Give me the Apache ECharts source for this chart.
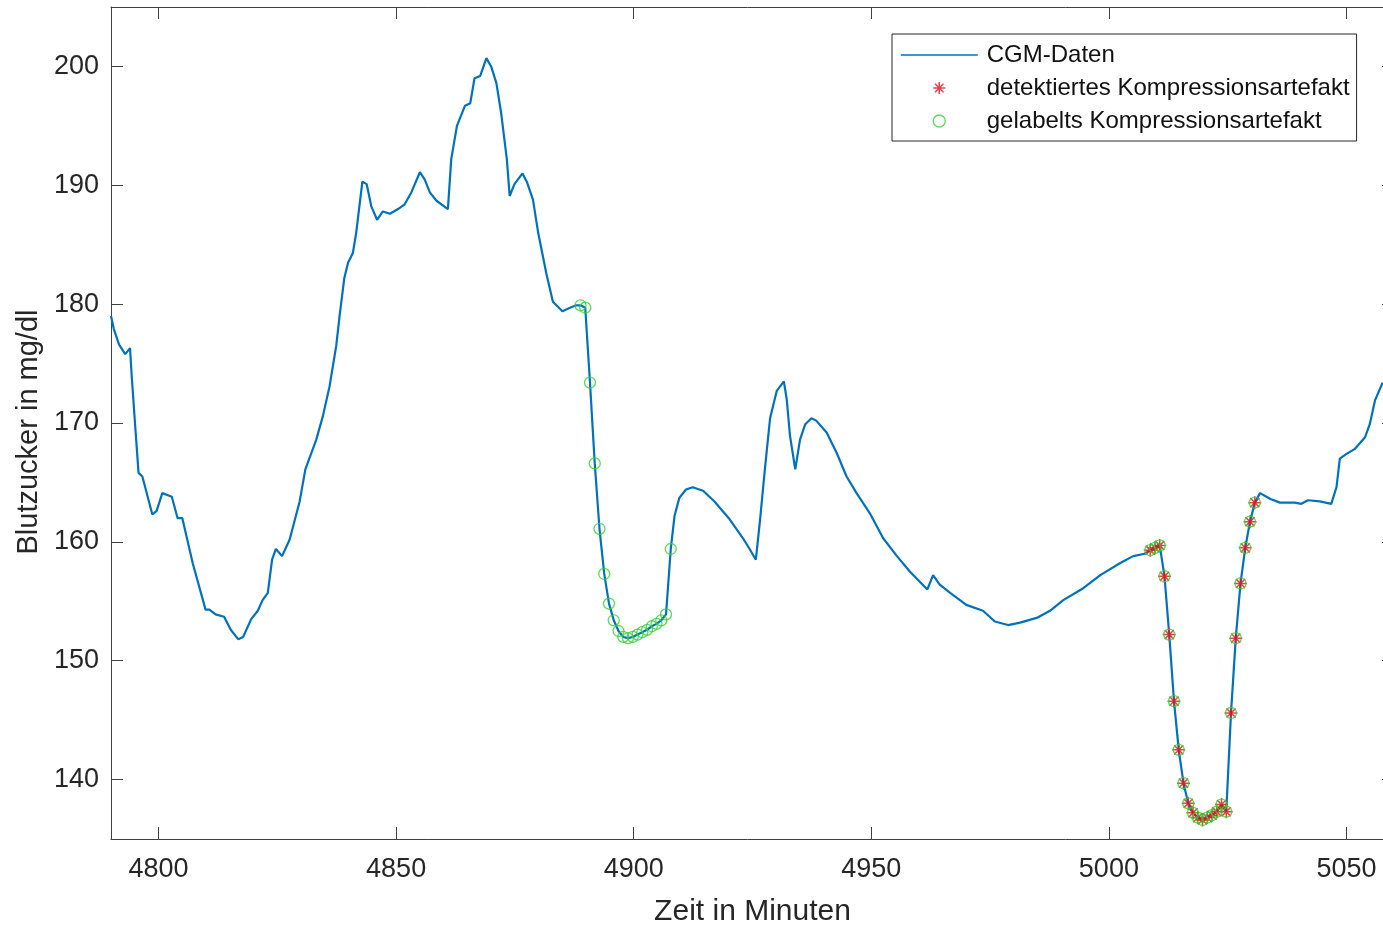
<!DOCTYPE html>
<html>
<head>
<meta charset="utf-8">
<title>CGM Kompressionsartefakte</title>
<script src="https://cdn.jsdelivr.net/npm/echarts@6/dist/echarts.min.js"></script>
<style>
  html, body { margin: 0; padding: 0; background: #fff; }
  #chart { width: 1383px; height: 925px; }
</style>
</head>
<body>
<div id="chart"></div>
<script>
// CGM-Verlauf (Zeit in Minuten, Blutzucker in mg/dl)
const cgmTime = [
  4790.0, 4790.6, 4791.7, 4793.0, 4794.0, 4794.4, 4795.1, 4795.8, 4796.6, 4798.7,
  4799.6, 4800.8, 4802.8, 4804.0, 4805.0, 4807.2, 4809.9, 4810.7, 4812.0, 4813.8,
  4815.2, 4816.8, 4817.8, 4819.5, 4820.9, 4821.9, 4823.0, 4823.9, 4824.7, 4826.0,
  4827.6, 4829.7, 4830.9, 4833.2, 4834.6, 4836.0, 4837.4, 4838.1, 4839.1, 4839.9,
  4840.9, 4841.6, 4842.9, 4843.8, 4844.8, 4846.0, 4847.2, 4848.7, 4850.4, 4851.8,
  4853.2, 4855.0, 4856.0, 4857.1, 4858.5, 4860.9, 4861.6, 4862.8, 4864.5, 4865.6,
  4866.5, 4867.7, 4869.0, 4870.0, 4871.1, 4872.1, 4873.3, 4873.9, 4874.9, 4876.6,
  4877.5, 4878.8, 4879.9, 4881.6, 4883.0, 4885.0, 4886.6, 4887.9,
  4908.6, 4909.6, 4911.0, 4912.4, 4914.6, 4917.0, 4920.2, 4923.0, 4924.4, 4925.7,
  4926.6, 4927.6, 4928.7, 4930.1, 4931.6, 4932.2, 4932.9, 4934.0, 4935.0, 4936.1,
  4937.4, 4938.4, 4940.6, 4942.7, 4944.8, 4946.9, 4949.7, 4952.5, 4955.4, 4958.1,
  4961.8, 4963.0, 4964.4, 4966.6, 4970.0, 4973.5, 4976.0, 4978.8, 4981.3, 4984.8,
  4987.6, 4990.4, 4994.6, 4998.2, 5002.3, 5005.1, 5007.5,
  5031.8, 5034.0, 5036.0, 5039.1, 5040.5, 5041.9, 5044.4, 5046.8, 5047.9, 5048.6,
  5050.0, 5051.7, 5053.9, 5054.9, 5056.0, 5057.6
]
const cgmValue = [
  179.0, 177.9, 176.6, 175.8, 176.3, 173.7, 169.7, 165.8, 165.5, 162.3,
  162.6, 164.1, 163.8, 162.0, 162.0, 158.2, 154.3, 154.3, 153.9, 153.7,
  152.6, 151.8, 152.0, 153.5, 154.2, 155.1, 155.7, 158.5, 159.4, 158.8,
  160.2, 163.4, 166.1, 168.6, 170.6, 173.1, 176.5, 179.0, 182.2, 183.5,
  184.3, 186.0, 190.3, 190.1, 188.2, 187.1, 187.8, 187.6, 188.0, 188.4,
  189.4, 191.1, 190.5, 189.4, 188.7, 188.0, 192.2, 195.0, 196.7, 196.9,
  199.0, 199.2, 200.7, 200.0, 198.6, 196.1, 192.2, 189.1, 190.1, 191.0,
  190.3, 188.8, 186.0, 182.6, 180.2, 179.4, 179.7, 179.9,
  162.2, 163.7, 164.4, 164.6, 164.3, 163.4, 161.9, 160.3, 159.4, 158.5,
  161.9, 166.1, 170.4, 172.7, 173.5, 172.0, 168.9, 166.1, 168.6, 169.9,
  170.4, 170.2, 169.2, 167.5, 165.5, 164.1, 162.4, 160.3, 158.8, 157.5,
  156.0, 157.2, 156.4, 155.7, 154.7, 154.2, 153.3, 153.0, 153.2, 153.6,
  154.2, 155.1, 156.1, 157.2, 158.2, 158.8, 159.0,
  164.1, 163.6, 163.3, 163.3, 163.2, 163.5, 163.4, 163.2, 164.6, 167.0,
  167.4, 167.8, 168.8, 169.9, 171.9, 173.4
]

// nur gelabeltes Artefakt (erster Einbruch)
const labelOnlyTime = [
  4888.8, 4889.8, 4890.8, 4891.8, 4892.8, 4893.8, 4894.8, 4895.8, 4896.8, 4897.8,
  4898.8, 4899.8, 4900.8, 4901.8, 4902.8, 4903.8, 4904.8, 4905.8, 4906.8, 4907.8
]
const labelOnlyValue = [
  179.9, 179.7, 173.4, 166.6, 161.1, 157.3, 154.8, 153.4, 152.5, 152.0,
  151.9, 152.0, 152.2, 152.4, 152.6, 152.9, 153.1, 153.4, 153.9, 159.4
]

// detektiert und gelabelt (zweiter Einbruch)
const detectedTime = [
  5008.7, 5009.7, 5010.7, 5011.7, 5012.7, 5013.7, 5014.7, 5015.7, 5016.7, 5017.7,
  5018.7, 5019.7, 5020.7, 5021.7, 5022.7, 5023.7, 5024.7, 5025.7, 5026.7, 5027.7,
  5028.7, 5029.7, 5030.7
]
const detectedValue = [
  159.3, 159.5, 159.7, 157.1, 152.2, 146.6, 142.5, 139.7, 138.0, 137.2,
  136.8, 136.6, 136.8, 137.0, 137.3, 137.9, 137.3, 145.6, 151.9, 156.5,
  159.5, 161.7, 163.3
]

const xTicks = [4800, 4850, 4900, 4950, 5000, 5050]
const yTicks = [140, 150, 160, 170, 180, 190, 200]

const seriesNames = ['CGM-Daten', 'detektiertes Kompressionsartefakt', 'gelabelts Kompressionsartefakt']

const font = 'Liberation Sans, Arial, sans-serif'
const axisColor = '#404040'
const textColor = '#262626'

const pairs = (t, v) => t.map((x, i) => [x, v[i]])

// Linie läuft durch alle Punkte, auch durch die Artefakte
const lineData = pairs(cgmTime, cgmValue)
  .concat(pairs(labelOnlyTime, labelOnlyValue))
  .concat(pairs(detectedTime, detectedValue))
  .sort((a, b) => a[0] - b[0])
const detectedData = pairs(detectedTime, detectedValue)
const labelledData = pairs(labelOnlyTime, labelOnlyValue).concat(detectedData)

const starPath = 'path://M0,-6L0,6M-6,0L6,0M-4.2,-4.2L4.2,4.2M-4.2,4.2L4.2,-4.2'
const red = '#e3141c'
const green = '#2fd42f'
const blue = '#0072BD'

const xAxisBase = {
  type: 'value', min: 4790, max: 5060,
  axisLine: { show: true, onZero: false, lineStyle: { color: axisColor, width: 1 } },
  axisTick: { show: true, inside: true, length: 12, customValues: xTicks, lineStyle: { color: axisColor } },
  splitLine: { show: false }
}
const yAxisBase = {
  type: 'value', min: 135, max: 205,
  axisLine: { show: true, onZero: false, lineStyle: { color: axisColor, width: 1 } },
  axisTick: { show: true, inside: true, length: 12, customValues: yTicks, lineStyle: { color: axisColor } },
  splitLine: { show: false }
}

const chart = echarts.init(document.getElementById('chart'))
chart.setOption({
  animation: false,
  backgroundColor: '#fff',
  grid: {
    left: 111, top: 7, width: 1283, height: 832,
    containLabel: false, outerBoundsMode: 'none'
  },
  xAxis: [
    Object.assign({}, xAxisBase, {
      position: 'bottom',
      axisLabel: {
        customValues: xTicks, margin: 17, fontSize: 27, color: textColor, fontFamily: font,
        formatter: v => String(v)
      },
      name: 'Zeit in Minuten', nameLocation: 'middle', nameGap: 58,
      nameTextStyle: { fontSize: 30, color: textColor, fontFamily: font }
    }),
    Object.assign({}, xAxisBase, { position: 'top', axisLabel: { show: false } })
  ],
  yAxis: [
    Object.assign({}, yAxisBase, {
      position: 'left',
      axisLabel: {
        customValues: yTicks, margin: 12, fontSize: 27, color: textColor, fontFamily: font,
        formatter: v => String(v)
      },
      name: 'Blutzucker in mg/dl', nameLocation: 'middle', nameGap: 61,
      nameTextStyle: { fontSize: 29, color: textColor, fontFamily: font, padding: [0, 18, 0, 0] }
    }),
    Object.assign({}, yAxisBase, { position: 'right', axisLabel: { show: false } })
  ],
  legend: {
    orient: 'vertical', left: 892, top: 34,
    padding: [9, 7, 8, 8], itemGap: 9, itemWidth: 77, itemHeight: 12,
    backgroundColor: '#fff', borderColor: '#262626', borderWidth: 1, borderRadius: 0,
    selectedMode: false,
    textStyle: { fontSize: 24, color: '#111', fontFamily: font, padding: [0, 0, 0, 4] },
    data: [
      {
        name: seriesNames[0], icon: 'inherit',
        itemStyle: { color: 'rgba(0,0,0,0)', borderWidth: 0 },
        lineStyle: { color: blue, width: 1.5 }
      },
      { name: seriesNames[1], icon: starPath, itemStyle: { color: 'none', borderColor: red, borderWidth: 1.5 } },
      { name: seriesNames[2], icon: 'circle', itemStyle: { color: 'rgba(0,0,0,0)', borderColor: green, borderWidth: 1.3 } }
    ]
  },
  series: [
    {
      name: seriesNames[0], type: 'line', data: lineData,
      showSymbol: false, symbol: 'none',
      lineStyle: { color: blue, width: 2.2 }, itemStyle: { color: blue },
      z: 2
    },
    {
      name: seriesNames[1], type: 'scatter', data: detectedData,
      symbol: starPath, symbolSize: 13,
      itemStyle: { color: 'none', borderColor: red, borderWidth: 1.5 },
      z: 3
    },
    {
      name: seriesNames[2], type: 'scatter', data: labelledData,
      symbol: 'circle', symbolSize: 11,
      itemStyle: { color: 'rgba(0,0,0,0)', borderColor: green, borderWidth: 1.3 },
      z: 4
    }
  ]
})
</script>
</body>
</html>
